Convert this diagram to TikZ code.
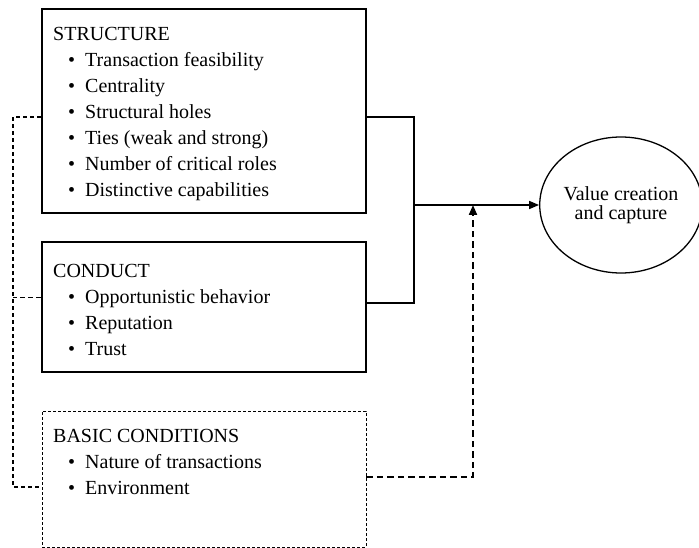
\documentclass[tikz,border=0pt]{standalone}
\usepackage{fontspec}
\setmainfont{Liberation Serif}
\usetikzlibrary{arrows.meta,shapes.geometric}
\tikzset{
  framebox/.style={draw, line width=2.8pt, minimum width=324pt, inner sep=0pt},
  condbox/.style={draw, line width=0.9pt, dash pattern=on 3pt off 2pt, minimum width=324pt, inner sep=0pt},
  txt/.style={anchor=north west, inner sep=0pt, align=left, font=\fontsize{20}{26}\selectfont},
  solidlink/.style={line width=1.5pt},
  leftdash/.style={line width=1.8pt, dash pattern=on 4pt off 3pt},
  thindash/.style={line width=1pt, dash pattern=on 5pt off 3pt},
  rightdash/.style={line width=2pt, dash pattern=on 6.5pt off 4pt},
  tip/.style={-{Triangle[length=10pt,width=8pt]}}
}
\newcommand{\bul}[1]{\hspace*{15pt}\makebox[17pt][l]{\textbullet}#1}
\begin{document}
\begin{tikzpicture}[x=1pt,y=-1pt]
\useasboundingbox (0,0) rectangle (699,548);
% boxes
\node[framebox, minimum height=204pt] (s) at (204,111) {};
\node[framebox, minimum height=130pt] (c) at (204,307) {};
\node[condbox, minimum height=136pt] (b) at (204,479) {};
% texts
\node[txt] (st) at (53,26.7) {STRUCTURE\\
\bul{Transaction feasibility}\\
\bul{Centrality}\\
\bul{Structural holes}\\
\bul{Ties (weak and strong)}\\
\bul{Number of critical roles}\\
\bul{Distinctive capabilities}};
\node[txt] (ct) at (53,263.7) {CONDUCT\\
\bul{Opportunistic behavior}\\
\bul{Reputation}\\
\bul{Trust}};
\node[txt] (bt) at (53,428.7) {BASIC CONDITIONS\\
\bul{Nature of transactions}\\
\bul{Environment}};
% outcome
\node[draw, ellipse, line width=1.3pt, minimum width=158pt, minimum height=136pt, inner sep=0pt,
      align=center, font=\fontsize{20}{19}\selectfont] (v) at (621,205) {Value creation\\and capture};
% coordinates
\coordinate (j) at (414,205);
\coordinate (k) at (473,205);
\coordinate (lt) at (13,117);
\coordinate (lb) at (13,487);
\coordinate (cw) at ([yshift=10pt]c.west);
% solid links
\draw[solidlink] ([yshift=-6pt]s.east) -| (j);
\draw[solidlink] ([yshift=4pt]c.east) -| (j);
\draw[solidlink, tip] (j) -- (v.west);
% dashed links
\draw[rightdash, tip] ([yshift=2pt]b.east) -| (k);
\draw[leftdash] ([yshift=-6pt]s.west) -- (lt) -- (lb) -- ([yshift=-8pt]b.west);
\draw[thindash] (cw) -- (lt |- cw);
\end{tikzpicture}
\end{document}
